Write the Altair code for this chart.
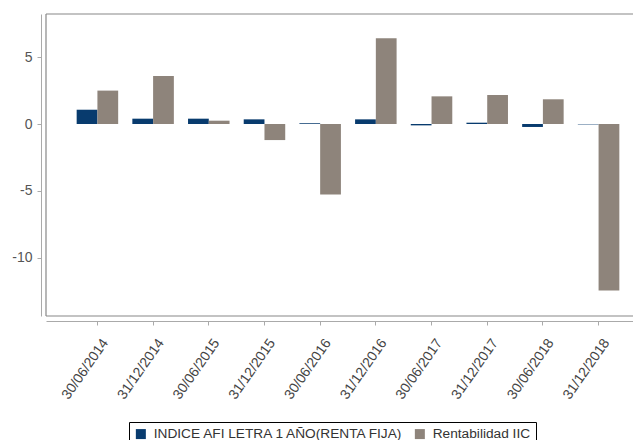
import altair as alt
import pandas as pd

fechas = ["30/06/2014", "31/12/2014", "30/06/2015", "31/12/2015", "30/06/2016",
          "31/12/2016", "30/06/2017", "31/12/2017", "30/06/2018", "31/12/2018"]
indice_afi = [1.07, 0.40, 0.40, 0.35, 0.05, 0.35, -0.10, 0.10, -0.22, -0.03]
rentabilidad_iic = [2.50, 3.60, 0.25, -1.20, -5.27, 6.42, 2.07, 2.17, 1.85, -12.45]
series = ["INDICE AFI LETRA 1 AÑO(RENTA FIJA)", "Rentabilidad IIC"]
colores = ["#083b6e", "#8e847b"]
y_ticks = [-10, -5, 0, 5]

rows = []
for f, a, r in zip(fechas, indice_afi, rentabilidad_iic):
    rows.append({"fecha": f, "serie": series[0], "valor": a})
    rows.append({"fecha": f, "serie": series[1], "valor": r})
df = pd.DataFrame(rows)

W, H = 587, 302
FONT = "Liberation Sans"

bars = alt.Chart(df).mark_bar().encode(
    x=alt.X("fecha:N", sort=fechas, title=None,
            scale=alt.Scale(range=[0, 604], paddingInner=0.2545, paddingOuter=0.5506),
            axis=alt.Axis(labelAngle=-55, labelAlign="right", labelBaseline="middle",
                          labelFontSize=14, labelFont=FONT, labelColor="#444",
                          tickSize=4, labelPadding=15, labelOffset=8, offset=5,
                          domainColor="#aaa", tickColor="#aaa")),
    xOffset=alt.XOffset("serie:N", sort=series,
                        scale=alt.Scale(paddingInner=0, paddingOuter=0)),
    y=alt.Y("valor:Q", title=None,
            scale=alt.Scale(domain=[-14.36, 8.23], nice=False, zero=False),
            axis=alt.Axis(values=y_ticks, grid=False, labelFontSize=14, labelFont=FONT,
                          labelColor="#555", tickSize=4, labelPadding=5, offset=5,
                          labelExpr="'' + datum.value",
                          domainColor="#aaa", tickColor="#aaa")),
    color=alt.Color("serie:N", sort=series,
                    scale=alt.Scale(domain=series, range=colores),
                    legend=alt.Legend(title=None, orient="none", legendX=83, legendY=408,
                                      direction="horizontal", symbolType="square",
                                      symbolSize=100, symbolStrokeWidth=0,
                                      labelFontSize=13.7, labelFont=FONT, labelColor="#333",
                                      labelLimit=0,
                                      labelOffset=6, columnPadding=8, padding=5,
                                      strokeColor="#000", fillColor="#fff")),
)

frame_df = pd.DataFrame({"k": [0]})
left = alt.Chart(frame_df).mark_rule(stroke="#888", strokeWidth=1.2).encode(
    x=alt.value(0), y=alt.value(0), y2=alt.value(H))
top = alt.Chart(frame_df).mark_rule(stroke="#888", strokeWidth=1.2).encode(
    x=alt.value(0), x2=alt.value(W), y=alt.value(0))
bottom = alt.Chart(frame_df).mark_rule(stroke="#888", strokeWidth=1.2).encode(
    x=alt.value(0), x2=alt.value(W), y=alt.value(H))

chart = alt.layer(bars, left, top, bottom).properties(
    width=W, height=H,
    autosize=alt.AutoSizeParams(type="none"),
    padding={"left": 38, "top": 6, "right": 0, "bottom": 124},
).configure_view(stroke=None)

chart.save("out.html", embed_options={"renderer": "svg", "actions": False})
